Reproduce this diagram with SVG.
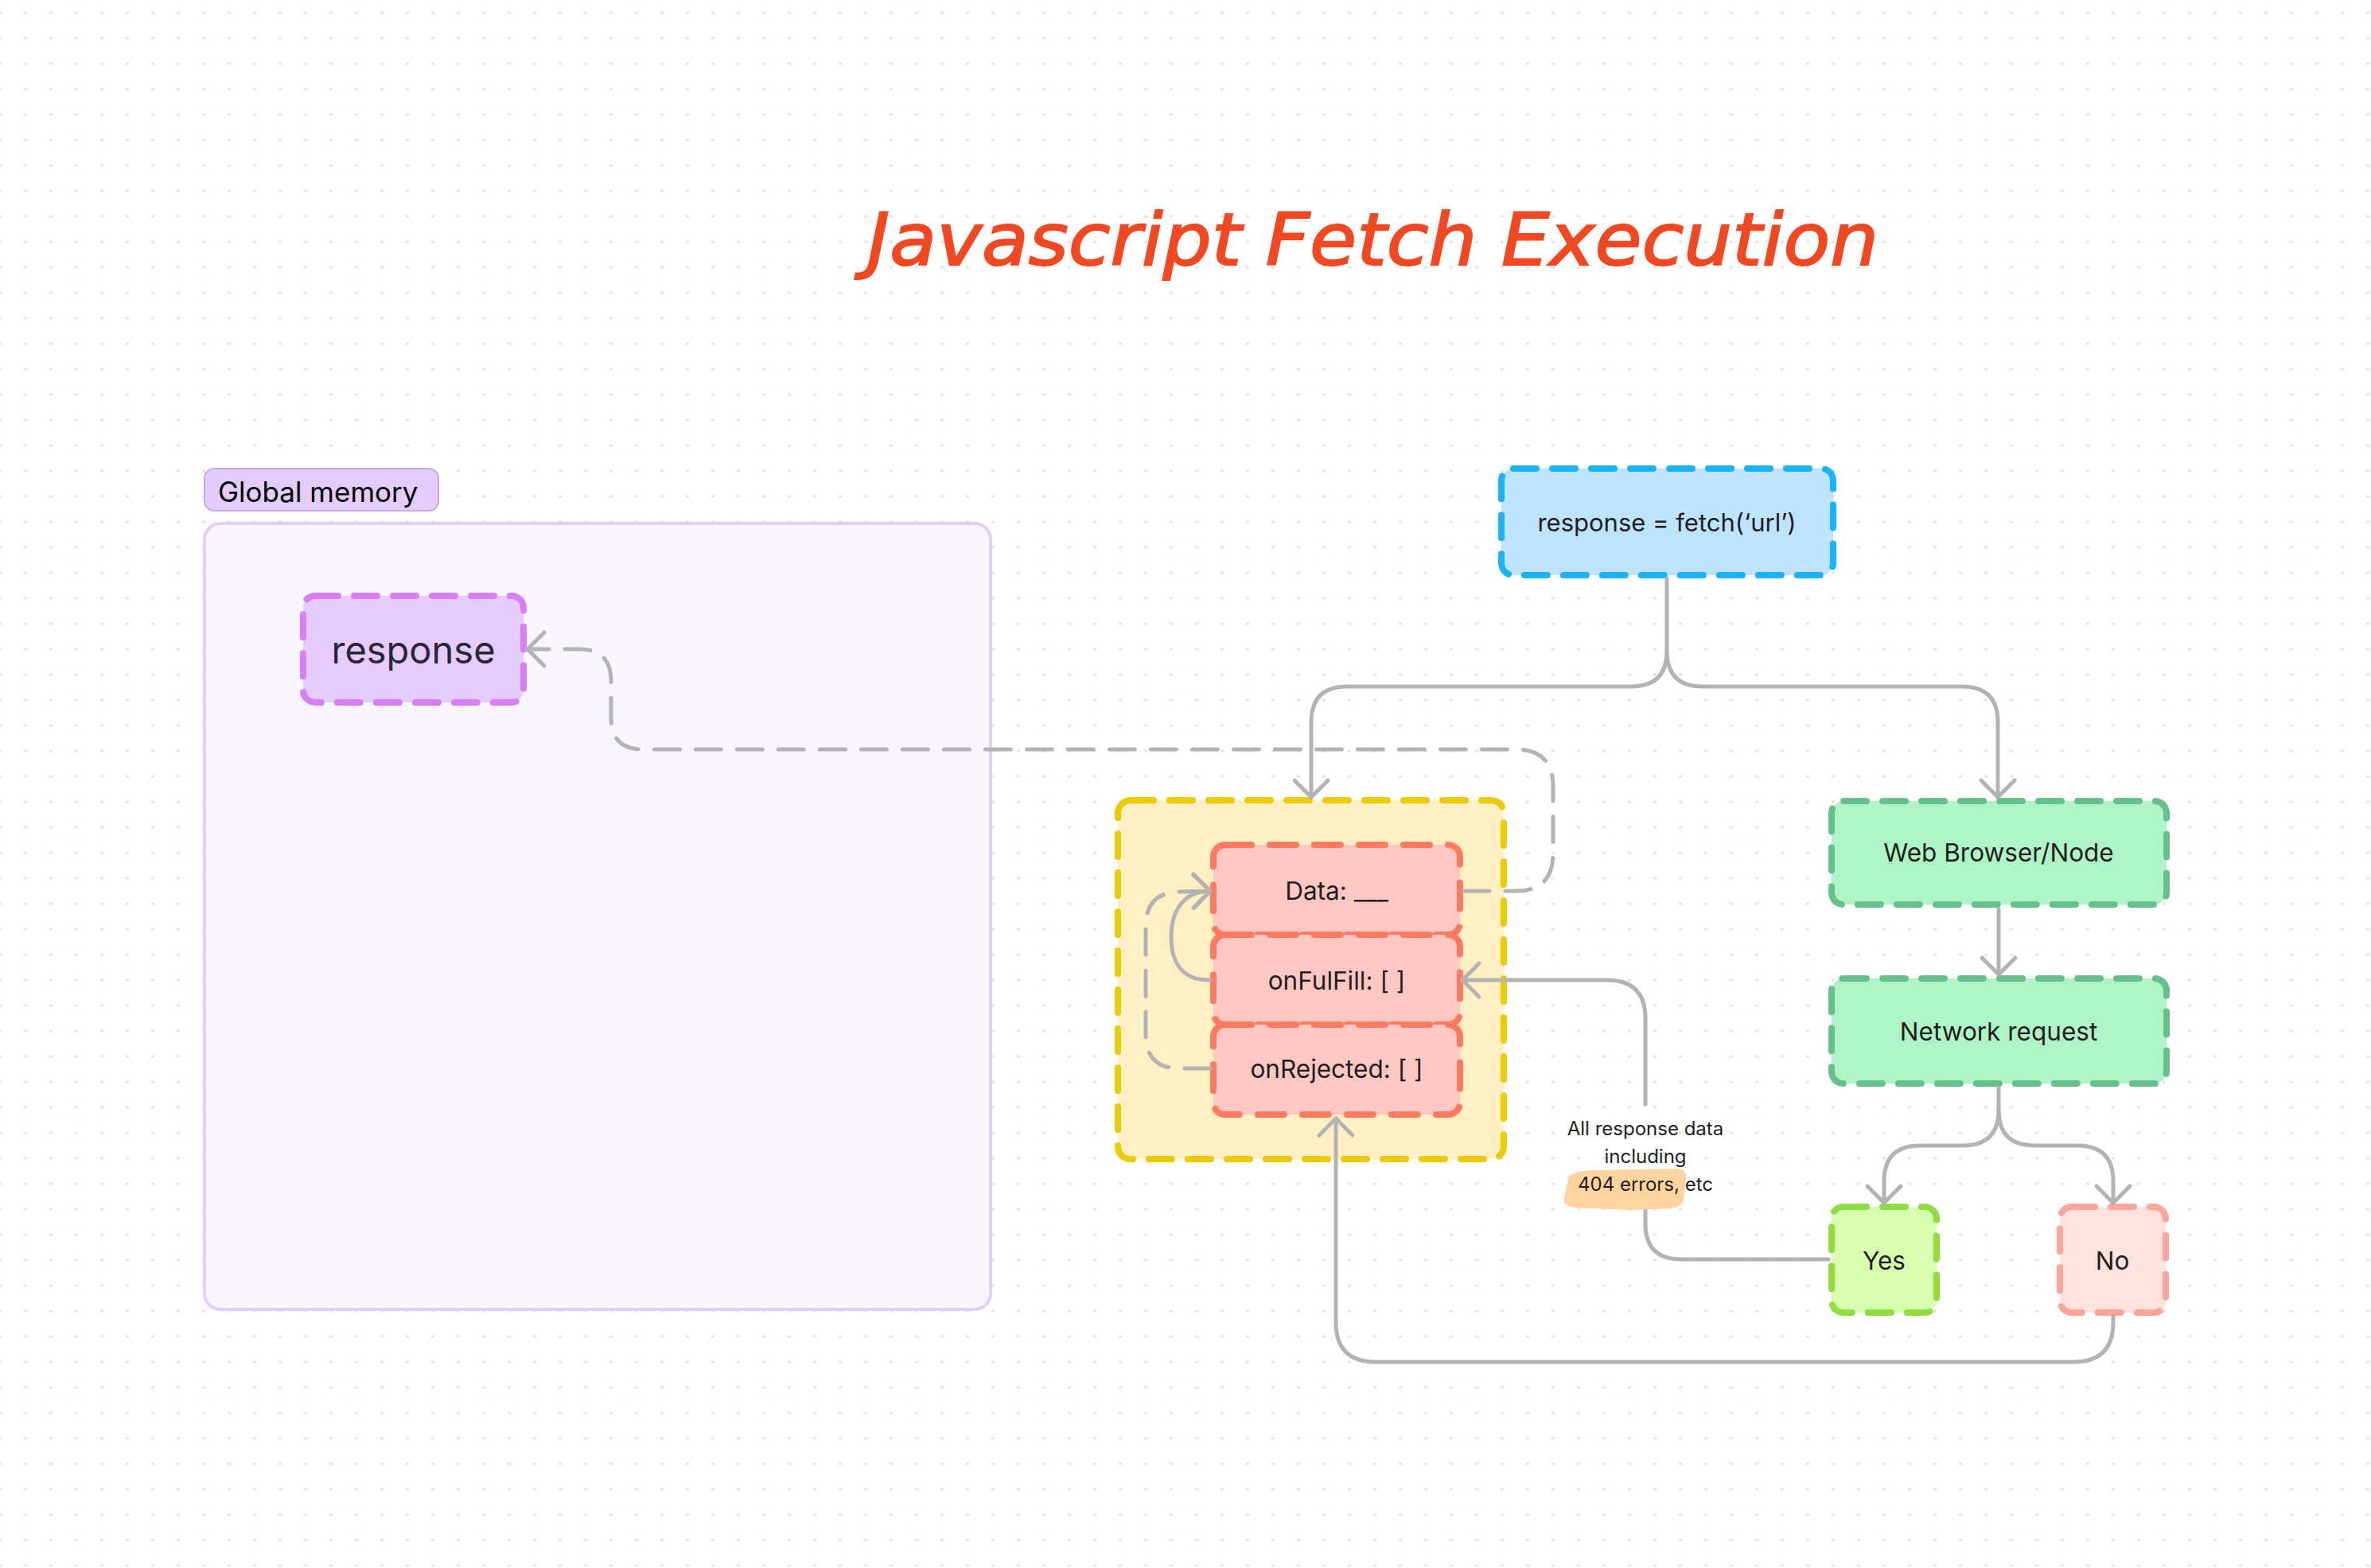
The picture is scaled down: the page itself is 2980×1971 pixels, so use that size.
<svg xmlns="http://www.w3.org/2000/svg" width="2980" height="1971" viewBox="0 0 2980 1971">
<style>
text{font-family:Inter,"Noto Sans","Liberation Sans",sans-serif;fill:#1E1E1E}
.node{stroke-width:8;stroke-dasharray:29 20;stroke-linecap:round}
.red{fill:#FFC7C2;stroke:#FF7A61;stroke-dasharray:33 23}
.green{fill:#AFF4C6;stroke:#66C08C}
.conn{fill:none;stroke:#B3B3B3;stroke-width:5;stroke-linecap:round;stroke-linejoin:round}
.dash{stroke-dasharray:32 20}
.t30{font-size:31.5px;text-anchor:middle}
</style>
<defs>
<pattern id="dots" x="16" y="0" width="32" height="32" patternUnits="userSpaceOnUse"><circle cx="16" cy="16" r="2" fill="#E3E3E3"/></pattern>
<marker id="arr" markerUnits="userSpaceOnUse" viewBox="-30 -30 40 60" refX="0" refY="0" markerWidth="40" markerHeight="60" orient="auto" overflow="visible"><path d="M-21,-21 L0,0 L-21,21" fill="none" stroke="#B3B3B3" stroke-width="5" stroke-linecap="round" stroke-linejoin="round"/></marker>
</defs>
<rect width="2980" height="1971" fill="#FFFFFF"/>
<rect width="2980" height="1971" fill="url(#dots)"/>

<text id="title" x="1090" y="333" textLength="1271" lengthAdjust="spacingAndGlyphs" style="font-family:'DejaVu Sans',sans-serif;font-size:90px;font-style:italic;font-weight:normal;fill:#F24822;stroke:#F24822;stroke-width:2">Javascript Fetch Execution</text>

<g id="global-memory">
<rect x="257" y="658" width="988" height="988" rx="20" fill="#F9F5FF" stroke="#E5CCFF" stroke-width="4"/>
</g>
<g id="global-memory-label">
<rect x="257" y="589" width="294" height="53" rx="12" fill="#E4CCFF" stroke="#C8A9E8" stroke-width="2"/>
<text x="274" y="631" style="font-size:35px;font-weight:normal;fill:#000">Global memory</text>
</g>
<g id="response">
<rect class="node" x="381" y="749" width="277" height="134" rx="15" fill="#E4CCFF" stroke="#D77FFA"/>
<text x="519.5" y="834" style="font-size:47px;text-anchor:middle;fill:#2C2535">response</text>
</g>
<g id="fetch">
<rect class="node" x="1887" y="589" width="417" height="134" rx="15" fill="#BDE3FF" stroke="#1BB2FF"/>
<text x="2095" y="668" style="font-size:31px;text-anchor:middle">response = fetch(‘url’)</text>
</g>
<g id="promise">
<rect class="node" x="1405" y="1006" width="485" height="451" rx="16" fill="#FFEFC2" stroke="#EBCB06"/>
</g>
<g id="data">
<rect class="node red" x="1525" y="1062" width="310" height="113" rx="15"/>
<text class="t30" x="1680" y="1131">Data: ___</text>
</g>
<g id="onfulfill">
<rect class="node red" x="1525" y="1175" width="310" height="113" rx="15"/>
<text class="t30" x="1680" y="1244">onFulFill: [ ]</text>
</g>
<g id="onrejected">
<rect class="node red" x="1525" y="1288" width="310" height="113" rx="15"/>
<text class="t30" x="1680" y="1355">onRejected: [ ]</text>
</g>
<g id="web-browser">
<rect class="node green" x="2302" y="1007" width="421" height="130" rx="15"/>
<text class="t30" x="2512" y="1083">Web Browser/Node</text>
</g>
<g id="network-request">
<rect class="node green" x="2302" y="1230" width="421" height="132" rx="15"/>
<text class="t30" x="2512" y="1308">Network request</text>
</g>
<g id="yes">
<rect class="node" x="2302" y="1517" width="132" height="133" rx="15" fill="#D8FFB0" stroke="#8FDD40"/>
<text class="t30" x="2368" y="1596">Yes</text>
</g>
<g id="no">
<rect class="node" x="2589" y="1517" width="133" height="133" rx="15" fill="#FFE1DE" stroke="#FFA498"/>
<text class="t30" x="2655" y="1596">No</text>
</g>

<g id="connectors">
<path class="conn" d="M2095,727 L2095,818 Q2095,863 2050,863 L1693,863 Q1648,863 1648,908 L1648,1002" marker-end="url(#arr)"/>
<path class="conn" d="M2095,818 Q2095,863 2140,863 L2466,863 Q2511,863 2511,908 L2511,1002" marker-end="url(#arr)"/>
<path class="conn" d="M2512,1143 L2512,1225" marker-end="url(#arr)"/>
<path class="conn" d="M2512,1367 L2512,1395 Q2512,1440 2467,1440 L2413,1440 Q2368,1440 2368,1485 L2368,1512" marker-end="url(#arr)"/>
<path class="conn" d="M2512,1395 Q2512,1440 2557,1440 L2611,1440 Q2656,1440 2656,1485 L2656,1512" marker-end="url(#arr)"/>
<path class="conn" d="M2656,1655 L2656,1662 Q2656,1712 2606,1712 L1729,1712 Q1679,1712 1679,1662 L1679,1406" marker-end="url(#arr)"/>
<path class="conn" d="M2298,1583 L2113,1583 Q2068,1583 2068,1538 L2068,1520"/>
<path class="conn" d="M2068,1388 L2068,1280 Q2068,1232 2020,1232 L1838,1232" marker-end="url(#arr)"/>
<path class="conn" d="M1520,1232 C1482,1232 1472,1205 1472,1178 C1472,1142 1490,1120 1521,1120" marker-end="url(#arr)"/>
<path class="conn dash" d="M1521,1343 L1482,1343 Q1440,1343 1440,1300 L1440,1165 Q1440,1122 1482,1121 L1521,1120" marker-end="url(#arr)"/>
<path class="conn dash" d="M1840,1120 L1905,1120 Q1952,1120 1952,1073 L1952,989 Q1952,942 1905,942 L808,942 Q768,942 768,902 L768,856 Q768,816 728,816 L663,816" marker-end="url(#arr)"/>
</g>

<g id="connector-label">
<path d="M1972,1478 Q1984,1470 2010,1471 L2108,1469 Q2121,1470 2119,1482 L2116,1508 Q2112,1519 2098,1519 L2050,1521 L1980,1518 Q1963,1516 1966,1505 Z" fill="#FFD39E"/>
<text x="2068" y="1427" style="font-size:24px;text-anchor:middle">All response data</text>
<text x="2068" y="1462" style="font-size:24px;text-anchor:middle">including</text>
<text x="2068" y="1497" style="font-size:24px;text-anchor:middle">404 errors, etc</text>
</g>
</svg>
